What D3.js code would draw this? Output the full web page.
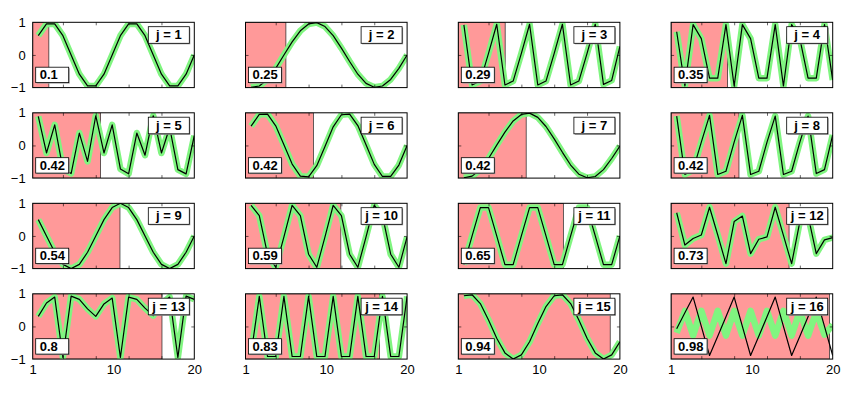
<!DOCTYPE html>
<html>
<head>
<meta charset="utf-8">
<script src="https://cdn.jsdelivr.net/npm/d3@7"></script>
<style>
  body { margin: 0; background: #fff; }
  svg { font-family: "Liberation Sans", Arial, Helvetica, sans-serif; }
</style>
</head>
<body>
<div id="chart"></div>
<script>
// fitted curves (black), one per panel, samples n = 1..20
var s1  = [0.59, 0.95, 0.95, 0.59, 0, -0.59, -0.95, -0.95, -0.59, 0, 0.59, 0.95, 0.95, 0.59, 0, -0.59, -0.95, -0.95, -0.59, 0];
var s2  = [-0.99, -0.95, -0.75, -0.41, 0, 0.40, 0.74, 0.95, 0.99, 0.87, 0.59, 0.21, -0.20, -0.59, -0.87, -0.99, -0.95, -0.75, -0.41, 0];
var s3  = [0.92, -0.92, -0.8, 0.05, 0.94, -0.92, -0.8, 0.05, 0.94, -0.92, -0.8, 0.05, 0.94, -0.92, -0.8, 0.05, 0.94, -0.9, -0.78, 0.26];
var s4  = [0.71, -0.95, 0.93, 0.5, -0.71, -0.71, 0.93, -0.95, 0.93, 0.5, -0.71, -0.71, 0.93, -0.95, 0.93, 0.5, -0.71, -0.71, 0.93, -0.77];
var s5  = [0.89, -0.23, 0.63, -0.72, -0.86, 0.38, -0.49, 0.91, -0.23, 0.63, -0.72, -0.87, 0.38, -0.3, 0.91, -0.23, 0.55, -0.74, -0.87, 0.3];
var s6  = [0.59, 0.95, 0.96, 0.6, 0.02, -0.57, -0.94, -0.96, -0.62, -0.03, 0.57, 0.94, 0.96, 0.61, 0.02, -0.58, -0.95, -0.95, -0.6, 0];
var s7  = [-0.99, -0.94, -0.74, -0.4, 0.01, 0.41, 0.75, 0.95, 0.99, 0.86, 0.58, 0.2, -0.21, -0.6, -0.88, -0.99, -0.95, -0.74, -0.4, -0.02];
var s8  = [0.9, -0.89, -0.75, 0.1, 0.92, -0.89, -0.79, 0.1, 0.92, -0.89, -0.79, 0.1, 0.9, -0.89, -0.79, 0.1, 0.9, -0.86, -0.74, 0.32];
var s9  = [0.5, 0, -0.5, -0.87, -1, -0.87, -0.5, 0, 0.5, 0.87, 1, 0.87, 0.5, 0, -0.5, -0.87, -1, -0.87, -0.5, 0];
var s10 = [0.94, 0.62, -0.56, -0.96, -0.03, 0.94, 0.62, -0.56, -0.96, -0.03, 0.94, 0.62, -0.56, -0.96, -0.03, 0.94, 0.62, -0.56, -0.96, -0.03];
var s11 = [-0.88, 0, 0.87, 0.87, 0, -0.88, -0.88, 0, 0.87, 0.87, 0, -0.88, -0.88, 0, 0.87, 0.87, 0, -0.88, -0.88, 0];
var s12 = [0.71, -0.28, -0.08, 0.03, 0.88, 0.03, -0.85, 0.44, 0.61, -0.54, -0.1, -0.03, 0.88, 0.02, -0.85, 0.44, 0.62, -0.54, -0.12, -0.05];
var s13 = [0.31, 0.72, 0.9, -0.95, 0.93, 0.83, 0.54, 0.31, 0.69, 0.87, -0.95, 0.9, 0.83, 0.56, 0.33, 0.69, 0.9, -0.95, 0.93, 0.83];
var s14 = [-0.85, 0.92, -0.92, -0.92, 0.92, -0.92, -0.92, 0.92, -0.92, -0.92, 0.92, -0.92, -0.92, 0.92, -0.92, -0.92, 0.92, -0.92, -0.92, 0.92];
var s15 = [0.94, 0.97, 0.7, 0.2, -0.36, -0.81, -1, -0.87, -0.47, 0.09, 0.61, 0.94, 0.97, 0.7, 0.2, -0.36, -0.81, -1, -0.87, -0.47];
var s16 = [-0.07, 0.42, 0.9, 0, -0.89, -0.3, 0.3, 0.9, 0, -0.89, -0.3, 0.3, 0.9, 0, -0.89, -0.3, 0.3, 0.9, 0, -0.89];

// the true signal (green) only differs visibly in the last panel
var g16 = [-0.2, 0.48, -0.28, 0.48, -0.28, 0.48, -0.28, 0.48, -0.28, 0.48, -0.28, 0.48, -0.28, 0.48, -0.28, 0.48, -0.28, 0.45, -0.25, 0.05];

var fractions = [0.1, 0.25, 0.29, 0.35, 0.42, 0.42, 0.42, 0.42, 0.54, 0.59, 0.65, 0.73, 0.8, 0.83, 0.94, 0.98];
var xTickLabels = ["1", "10", "20"];
var yTickValues = [-1, 0, 1];
var innerTicks = [4, 8, 12, 16];

var fitted = [s1, s2, s3, s4, s5, s6, s7, s8, s9, s10, s11, s12, s13, s14, s15, s16];
var signal = [s1, s2, s3, s4, s5, s6, s7, s8, s9, s10, s11, s12, s13, s14, s15, g16];

var width = 868, height = 397;
var left0 = 32.7, top0 = 22.3,
    panelW = 161.6, panelH = 65.3,
    colStep = 212.8, rowStep = 90.5;

var x = d3.scaleLinear().domain([0.32, 20]).range([0, panelW]);
var y = d3.scaleLinear().domain([-1, 1]).range([panelH, 0]);
var xLab = d3.scalePoint().domain(xTickLabels).range([0, panelW]);
var shade = d3.scaleLinear().domain([0, 1]).range([0, panelW]);

var line = d3.line()
  .x(function (d, i) { return x(i + 1); })
  .y(function (d) { return y(d); });

var svg = d3.select("#chart").append("svg")
  .attr("width", width)
  .attr("height", height);

svg.append("defs").append("clipPath")
  .attr("id", "clip")
  .append("rect")
  .attr("width", panelW)
  .attr("height", panelH);

fitted.forEach(function (vals, k) {
  var col = k % 4, row = Math.floor(k / 4);
  var g = svg.append("g")
    .attr("transform", "translate(" + (left0 + col * colStep) + "," + (top0 + row * rowStep) + ")");

  var plot = g.append("g").attr("clip-path", "url(#clip)");

  plot.append("rect")
    .attr("width", shade(fractions[k]))
    .attr("height", panelH)
    .attr("fill", "#ff9999")
    .attr("stroke", "#222")
    .attr("stroke-width", 0.7);

  plot.append("path")
    .datum(signal[k])
    .attr("d", line)
    .attr("fill", "none")
    .attr("stroke", "#80f580")
    .attr("stroke-width", 6.5)
    .attr("stroke-linejoin", "round");

  plot.append("path")
    .datum(vals)
    .attr("d", line)
    .attr("fill", "none")
    .attr("stroke", "#000")
    .attr("stroke-width", 1.2)
    .attr("stroke-linejoin", "round");

  // small inward ticks on all four sides
  var tb = g.append("g").attr("transform", "translate(0," + panelH + ")")
    .call(d3.axisBottom(x).tickValues(innerTicks).tickSize(-3).tickFormat(""));
  var tt = g.append("g")
    .call(d3.axisTop(x).tickValues(innerTicks).tickSize(-3).tickFormat(""));
  var tl = g.append("g")
    .call(d3.axisLeft(y).tickValues([0]).tickSize(-3).tickFormat(""));
  var tr = g.append("g").attr("transform", "translate(" + panelW + ",0)")
    .call(d3.axisRight(y).tickValues([0]).tickSize(-3).tickFormat(""));
  [tb, tt, tl, tr].forEach(function (a) {
    a.select(".domain").remove();
    a.selectAll("line").attr("stroke", "#000").attr("stroke-width", 0.6);
  });

  if (col === 0) {
    var ya = g.append("g")
      .call(d3.axisLeft(y).tickValues(yTickValues).tickSize(0).tickPadding(7)
        .tickFormat(function (d) { return d < 0 ? "\u2212" + Math.abs(d) : d; }));
    ya.select(".domain").remove();
    ya.selectAll("text").attr("font-size", 13).attr("fill", "#000")
      .attr("font-family", "'Liberation Sans', Arial, sans-serif");
  }
  if (row === 3) {
    var xa = g.append("g").attr("transform", "translate(0," + panelH + ")")
      .call(d3.axisBottom(xLab).tickSize(0).tickPadding(6));
    xa.select(".domain").remove();
    xa.selectAll("text").attr("font-size", 13).attr("fill", "#000")
      .attr("font-family", "'Liberation Sans', Arial, sans-serif");
  }

  g.append("rect")
    .attr("width", panelW)
    .attr("height", panelH)
    .attr("fill", "none")
    .attr("stroke", "#000")
    .attr("stroke-width", 1);

  // "j = N" box, top right
  var jb = g.append("g").attr("transform", "translate(" + (panelW - 46) + ",4.4)");
  jb.append("rect").attr("x", 1).attr("y", 1).attr("width", 41).attr("height", 16.6).attr("fill", "#999");
  jb.append("rect").attr("width", 41).attr("height", 16.6)
    .attr("fill", "#fff").attr("stroke", "#000").attr("stroke-width", 0.8);
  jb.append("text")
    .attr("x", 20.5).attr("y", 12.8)
    .attr("text-anchor", "middle")
    .attr("font-size", 13).attr("font-weight", "bold")
    .text("j = " + (k + 1));

  // fraction box, bottom left
  var vb = g.append("g").attr("transform", "translate(3," + (panelH - 5 - 15.4) + ")");
  vb.append("rect").attr("x", 1).attr("y", 1).attr("width", 33).attr("height", 15.4).attr("fill", "#999");
  vb.append("rect").attr("width", 33).attr("height", 15.4)
    .attr("fill", "#fff").attr("stroke", "#000").attr("stroke-width", 0.8);
  vb.append("text")
    .attr("x", 4).attr("y", 12.2)
    .attr("font-size", 13).attr("font-weight", "bold")
    .text(String(fractions[k]));
});
</script>
</body>
</html>
